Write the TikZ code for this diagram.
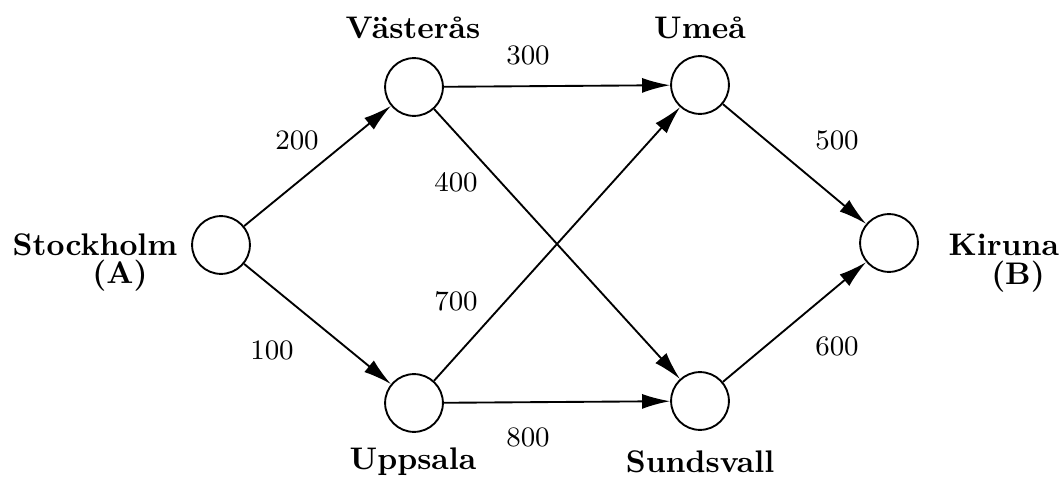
\documentclass[tikz,border=0pt]{standalone}
\usetikzlibrary{arrows.meta}
\begin{document}
\begin{tikzpicture}[x=0.32pt,y=-0.32pt,
  city/.style={circle,draw,line width=0.6pt,minimum size=18.5pt,inner sep=0pt},
  lab/.style={font=\bfseries,inner sep=0pt},
  num/.style={font=\small,inner sep=0pt},
  road/.style={line width=0.6pt,-{Latex[length=9pt,width=4.8pt]}}]
\useasboundingbox (0,0) rectangle (1059,478);
\node[city] (S) at (221,245) {};
\node[city] (V) at (414,87) {};
\node[city] (U) at (414,403) {};
\node[city] (M) at (700,85) {};
\node[city] (D) at (700,401) {};
\node[city] (K) at (889,243) {};
\node[lab] (Sl) at (95,245) {Stockholm};
\node[lab] (Sa) at (120,276) {(A)};
\node[lab] (Vl) at (413,28) {Västerås};
\node[lab] (Ml) at (700,28) {Umeå};
\node[lab] (Ul) at (413,462) {Uppsala};
\node[lab] (Dl) at (700,462) {Sundsvall};
\node[lab,anchor=west] (Kl) at (948,245) {Kiruna};
\node[lab] (Kb) at (1018,277) {(B)};
\draw[road] (S) -- (V);
\draw[road] (S) -- (U);
\draw[road] (V) -- (M);
\draw[road] (V) -- (D);
\draw[road] (U) -- (M);
\draw[road] (U) -- (D);
\draw[road] (M) -- (K);
\draw[road] (D) -- (K);
\node[num] (n1) at (297,140) {200};
\node[num] (n2) at (272,350) {100};
\node[num] (n3) at (528,55) {300};
\node[num] (n4) at (456,182) {400};
\node[num] (n5) at (456,301) {700};
\node[num] (n6) at (528,437) {800};
\node[num] (n7) at (837,140) {500};
\node[num] (n8) at (837,346) {600};
\end{tikzpicture}
\end{document}
